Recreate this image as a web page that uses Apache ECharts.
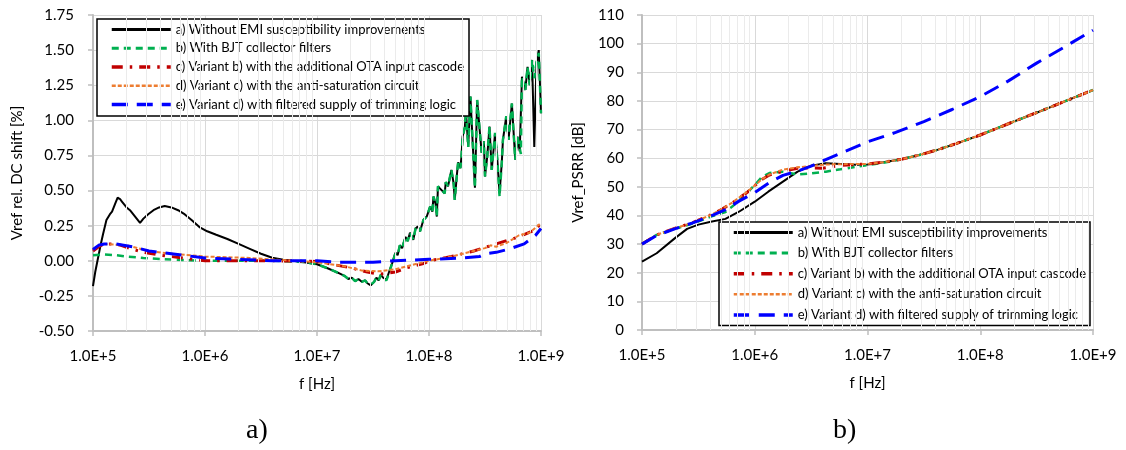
<!DOCTYPE html>
<html>
<head>
<meta charset="utf-8">
<script src="https://cdn.jsdelivr.net/npm/echarts@6/dist/echarts.min.js"></script>
<style>
  html, body { margin: 0; padding: 0; background: #fff; }
  #chart { width: 1126px; height: 450px; }
</style>
</head>
<body>
<div id="chart"></div>
<script>
// Frequencies are stored as decade exponents (f = 10^exp Hz).
const seriesNames = [
  'a) Without EMI susceptibility improvements',
  'b) With BJT collector filters',
  'c) Variant b) with the additional OTA input cascode',
  'd) Variant c) with the anti-saturation circuit',
  'e) Variant d) with filtered supply of trimming logic'
];

// ---- a) Vref relative DC shift [%] ----
const shiftA = [
  [5.00,-0.18],[5.02,-0.08],[5.04,0.00],[5.07,0.12],[5.09,0.19],[5.12,0.29],[5.15,0.33],[5.17,0.35],
  [5.20,0.41],[5.22,0.45],[5.24,0.44],[5.26,0.42],[5.30,0.38],[5.33,0.36],[5.36,0.33],[5.39,0.30],
  [5.42,0.27],[5.45,0.30],[5.49,0.33],[5.54,0.36],[5.59,0.38],[5.64,0.39],[5.70,0.38],[5.76,0.36],
  [5.82,0.33],[5.88,0.29],[5.95,0.24],[6.02,0.21],[6.10,0.185],[6.20,0.155],[6.30,0.12],[6.40,0.085],
  [6.50,0.05],[6.60,0.022],[6.70,0.008],[6.80,-0.002],[6.90,-0.012],[7.00,-0.025],[7.10,-0.055],
  [7.20,-0.09],[7.25,-0.11],[7.28,-0.13],[7.31,-0.12],[7.34,-0.145],[7.37,-0.13],[7.40,-0.15],
  [7.43,-0.14],[7.45,-0.16],[7.48,-0.175],[7.51,-0.15],[7.53,-0.12],[7.55,-0.14],[7.57,-0.10],
  [7.59,-0.12],[7.62,-0.135],[7.65,-0.064],[7.67,-0.02],[7.70,0.057],[7.72,0.04],[7.74,0.11],
  [7.76,0.09],[7.79,0.17],[7.81,0.14],[7.83,0.20],[7.86,0.15],[7.88,0.23],[7.90,0.244],[7.92,0.21],
  [7.95,0.29],[7.98,0.315],[8.01,0.386],[8.03,0.35],[8.04,0.457],[8.06,0.40],[8.07,0.315],[8.08,0.53],
  [8.11,0.505],[8.14,0.48],[8.15,0.56],[8.17,0.53],[8.20,0.647],[8.22,0.55],[8.23,0.434],[8.25,0.62],
  [8.26,0.70],[8.28,0.66],[8.29,0.742],[8.30,0.884],[8.32,0.95],[8.33,1.07],[8.35,0.81],[8.37,1.17],
  [8.39,0.84],[8.41,0.52],[8.43,1.145],[8.45,0.955],[8.47,0.77],[8.49,0.85],[8.50,0.60],[8.52,0.742],
  [8.54,0.955],[8.56,0.647],[8.59,0.91],[8.61,0.72],[8.63,0.48],[8.65,0.70],[8.66,0.86],[8.69,1.03],
  [8.71,0.86],[8.74,1.12],[8.77,0.72],[8.79,0.884],[8.81,0.78],[8.83,1.31],[8.86,1.216],[8.88,1.38],
  [8.90,1.25],[8.92,1.43],[8.94,0.81],[8.96,1.41],[8.98,1.50],[9.00,1.05]
];
const shiftB = [
  [5.00,0.04],[5.10,0.045],[5.20,0.04],[5.30,0.03],[5.45,0.02],[5.60,0.012],[5.80,0.006],[6.00,0.00],
  [6.30,0.00],[6.60,0.00],[6.90,-0.01],[7.00,-0.025],[7.10,-0.055],
  [7.20,-0.09],[7.25,-0.11],[7.28,-0.13],[7.31,-0.12],[7.34,-0.145],[7.37,-0.13],[7.40,-0.15],
  [7.43,-0.14],[7.45,-0.16],[7.48,-0.17],[7.51,-0.15],[7.53,-0.12],[7.55,-0.14],[7.57,-0.10],
  [7.59,-0.12],[7.62,-0.14],[7.65,-0.07],[7.67,-0.02],[7.70,0.05],[7.72,0.04],[7.74,0.11],
  [7.76,0.09],[7.79,0.17],[7.81,0.14],[7.83,0.20],[7.86,0.15],[7.88,0.23],[7.90,0.244],[7.92,0.21],
  [7.95,0.29],[7.98,0.315],[8.01,0.386],[8.03,0.35],[8.04,0.457],[8.06,0.40],[8.07,0.315],[8.08,0.53],
  [8.11,0.505],[8.14,0.48],[8.15,0.56],[8.17,0.53],[8.20,0.647],[8.22,0.55],[8.23,0.434],[8.25,0.62],
  [8.26,0.70],[8.28,0.66],[8.29,0.742],[8.30,0.884],[8.32,0.95],[8.33,1.07],[8.35,0.81],[8.37,1.17],
  [8.39,0.84],[8.41,0.52],[8.43,1.145],[8.45,0.955],[8.47,0.77],[8.49,0.85],[8.50,0.60],[8.52,0.742],
  [8.54,0.955],[8.56,0.647],[8.59,0.91],[8.61,0.72],[8.63,0.46],[8.65,0.70],[8.66,0.86],[8.69,1.03],
  [8.71,0.86],[8.74,1.12],[8.77,0.72],[8.79,0.884],[8.82,0.76],[8.83,1.31],[8.86,1.216],[8.88,1.38],
  [8.90,1.25],[8.92,1.43],[8.94,1.30],[8.96,1.41],[8.98,1.48],[9.00,1.05]
];
const shiftC = [
  [5.00,0.07],[5.05,0.10],[5.10,0.12],[5.18,0.12],[5.25,0.11],[5.35,0.083],[5.45,0.06],[5.60,0.04],
  [5.80,0.02],[6.00,0.00],[6.30,0.00],[6.60,0.00],[7.00,-0.005],[7.10,-0.02],[7.30,-0.05],
  [7.45,-0.08],[7.55,-0.095],[7.62,-0.09],[7.70,-0.08],[7.80,-0.05],[7.95,-0.02],[8.00,0.00],
  [8.20,0.03],[8.40,0.07],[8.60,0.12],[8.80,0.17],[8.95,0.22],[9.00,0.27]
];
const shiftD = [
  [5.00,0.08],[5.05,0.105],[5.10,0.12],[5.20,0.115],[5.30,0.11],[5.40,0.09],[5.50,0.07],[5.70,0.05],
  [6.00,0.03],[6.40,0.02],[6.80,0.00],[7.00,-0.01],[7.25,-0.04],[7.40,-0.07],[7.55,-0.075],
  [7.70,-0.06],[7.90,-0.02],[8.00,0.00],[8.20,0.03],[8.40,0.07],[8.50,0.09],[8.55,0.11],
  [8.60,0.10],[8.70,0.13],[8.80,0.18],[8.90,0.20],[9.00,0.27]
];
const shiftE = [
  [5.00,0.08],[5.05,0.11],[5.10,0.12],[5.20,0.12],[5.35,0.10],[5.50,0.07],[5.70,0.05],[6.00,0.02],
  [6.30,0.01],[6.60,0.00],[7.00,0.00],[7.20,-0.01],[7.50,-0.01],[7.70,0.00],[8.00,0.01],
  [8.30,0.02],[8.45,0.03],[8.50,0.05],[8.60,0.06],[8.70,0.08],[8.85,0.12],[8.95,0.18],[9.00,0.23]
];

// ---- b) Vref_PSRR [dB] ----
const psrrA = [
  [5.00,23.9],[5.13,26.8],[5.29,32.0],[5.40,35.3],[5.50,36.8],[5.61,37.8],[5.74,38.8],[5.86,41.3],
  [6.00,44.8],[6.12,48.3],[6.25,51.8],[6.38,55.3],[6.50,57.4],[6.63,58.2],[6.76,58.0],[6.90,57.7],
  [7.00,57.8],[7.14,58.6],[7.30,59.6],[7.46,61.1],[7.62,62.9],[7.78,65.0],[8.00,68.1],[8.26,72.2],
  [8.52,76.2],[8.74,79.7],[9.00,83.8]
];
const psrrB = [
  [5.00,30.0],[5.13,33.2],[5.29,35.3],[5.45,37.2],[5.61,39.6],[5.74,41.2],[5.80,43.1],[5.90,46.6],
  [6.00,50.6],[6.06,53.3],[6.13,54.8],[6.25,55.3],[6.38,54.3],[6.50,54.7],[6.63,55.3],[6.76,56.1],
  [6.90,57.0],[7.00,57.6],[7.14,58.4],[7.30,59.6],[7.46,61.1],[7.62,62.9],[7.78,65.0],[8.00,68.1],
  [8.26,72.2],[8.52,76.2],[8.74,79.7],[9.00,83.8]
];
const psrrC = [
  [5.00,30.0],[5.13,33.2],[5.29,35.5],[5.45,37.5],[5.60,40.0],[5.70,42.0],[5.80,44.3],[5.94,48.3],
  [6.06,52.5],[6.13,54.1],[6.25,55.5],[6.38,56.5],[6.50,56.6],[6.60,56.5],[6.76,57.5],[7.00,58.0],
  [7.14,58.6],[7.30,59.6],[7.46,61.1],[7.62,62.9],[7.78,65.0],[8.00,68.1],[8.26,72.2],[8.52,76.2],
  [8.74,79.7],[9.00,83.8]
];
const psrrD = [
  [5.00,30.0],[5.13,33.2],[5.29,35.5],[5.45,37.5],[5.60,40.0],[5.70,42.0],[5.80,44.5],[5.94,48.5],
  [6.06,52.5],[6.13,54.3],[6.25,56.0],[6.38,56.8],[6.50,57.3],[6.63,57.8],[6.76,57.9],[7.00,58.0],
  [7.14,58.6],[7.30,59.6],[7.46,61.1],[7.62,62.9],[7.78,65.0],[8.00,68.1],[8.26,72.2],[8.52,76.2],
  [8.74,79.7],[9.00,83.8]
];
const psrrE = [
  [5.00,30.0],[5.13,33.0],[5.29,35.3],[5.45,37.4],[5.61,39.8],[5.74,42.0],[5.86,45.0],[6.00,48.0],
  [6.13,51.5],[6.25,54.0],[6.38,55.5],[6.50,57.2],[6.63,59.5],[6.76,61.7],[7.00,65.7],[7.25,69.0],
  [7.50,72.8],[7.75,77.0],[8.00,81.5],[8.25,87.0],[8.50,93.2],[8.75,98.9],[9.00,104.7]
];

// Axis ranges
const shiftTicks = { min: -0.5, max: 1.75, step: 0.25 };
const psrrTicks = { min: 0, max: 110, step: 10 };

// Excel-style log minor grid: 2..9 x 10^n
const minorGrid = [];
for (let d = 5; d < 9; d++) {
  for (let k = 2; k <= 9; k++) minorGrid.push(k * Math.pow(10, d));
}

const toHz = arr => arr.map(p => [Math.pow(10, p[0]), p[1]]);

const styles = [
  { color: '#000000', width: 2, type: 'solid' },
  { color: '#00b050', width: 2.5, type: [7, 5] },
  { color: '#c00000', width: 3, type: [11, 7, 2.5, 7] },
  { color: '#ed7d31', width: 2, type: [4, 2] },
  { color: '#0000ff', width: 3, type: [16, 9] }
];
// Heavier strokes for the legend samples
const legendWidths = [3, 3, 3.5, 2.5, 3.5];

const tickFont = { fontFamily: 'Lato', fontSize: 15, color: '#000' };

function xAxisDef(gridIndex) {
  return {
    type: 'log', logBase: 10, gridIndex, min: 1e5, max: 1e9,
    name: 'f [Hz]', nameLocation: 'middle', nameGap: 46,
    nameTextStyle: { fontFamily: 'Lato', fontSize: 15, color: '#000' },
    axisLine: { onZero: false, lineStyle: { color: '#bfbfbf', width: 2 } },
    axisTick: { show: true, length: 5, lineStyle: { color: '#bfbfbf', width: 1.5 } },
    axisLabel: Object.assign({ margin: 18, formatter: v => '1.0E+' + Math.round(Math.log10(v)) }, tickFont),
    splitLine: { show: true, lineStyle: { color: '#d9d9d9', width: 1 } },
    minorTick: { show: false }, minorSplitLine: { show: false }
  };
}

function yAxisDef(gridIndex, t, name, gap, digits, margin) {
  return {
    type: 'value', gridIndex, min: t.min, max: t.max, interval: t.step,
    name, nameLocation: 'middle', nameGap: gap, nameRotate: 90,
    nameTextStyle: { fontFamily: 'Lato', fontSize: 15, color: '#000' },
    axisLine: { show: true, onZero: false, lineStyle: { color: '#bfbfbf', width: 2 } },
    axisTick: { show: true, length: 5, lineStyle: { color: '#bfbfbf', width: 1.5 } },
    axisLabel: Object.assign({ margin, formatter: v => v.toFixed(digits) }, tickFont),
    splitLine: { show: true, lineStyle: { color: '#d9d9d9', width: 1 } }
  };
}

function gridSeries(idx) {
  return {
    type: 'line', xAxisIndex: idx, yAxisIndex: idx, data: [], z: 1, silent: true,
    markLine: {
      silent: true, symbol: 'none', label: { show: false }, animation: false,
      lineStyle: { color: '#ebebeb', width: 1, type: 'solid' },
      data: minorGrid.map(v => ({ xAxis: v }))
    }
  };
}

function curveSeries(idx, i, arr) {
  return {
    name: seriesNames[i], type: 'line', xAxisIndex: idx, yAxisIndex: idx,
    data: toHz(arr), showSymbol: false, symbol: 'none', smooth: false,
    lineStyle: { color: styles[i].color, width: styles[i].width, type: styles[i].type },
    itemStyle: { color: styles[i].color },
    z: 2 + i, animation: false
  };
}

function legendDef(left, top, gap, pad) {
  return {
    orient: 'vertical', left, top,
    data: seriesNames.map((name, i) => ({
      name,
      itemStyle: { opacity: 0 },
      lineStyle: { color: styles[i].color, width: legendWidths[i], type: styles[i].type }
    })),
    itemWidth: 59, itemHeight: 13, itemGap: gap,
    padding: pad,
    itemStyle: { opacity: 0 },
    borderColor: '#000', borderWidth: 1.5, backgroundColor: '#fff',
    textStyle: { fontFamily: 'Lato', fontSize: 13, color: '#000' },
    selectedMode: false
  };
}

const chart = echarts.init(document.getElementById('chart'), null, { renderer: 'canvas' });
chart.setOption({
  animation: false,
  grid: [
    { left: 93, top: 15, width: 448, height: 316 },
    { left: 642, top: 15, width: 451, height: 315 }
  ],
  xAxis: [xAxisDef(0), xAxisDef(1)],
  yAxis: [
    yAxisDef(0, shiftTicks, 'Vref rel. DC shift [%]', 68, 2, 19),
    yAxisDef(1, psrrTicks, 'Vref_PSRR [dB]', 56, 0, 18)
  ],
  legend: [
    legendDef(97, 19, 5.75, [4, 5, 5, 13]),
    legendDef(719, 222, 7.6, [4, 4, 4, 13])
  ],
  series: [
    gridSeries(0), gridSeries(1),
    curveSeries(0, 0, shiftA), curveSeries(0, 1, shiftB), curveSeries(0, 2, shiftC),
    curveSeries(0, 3, shiftD), curveSeries(0, 4, shiftE),
    curveSeries(1, 0, psrrA), curveSeries(1, 1, psrrB), curveSeries(1, 2, psrrC),
    curveSeries(1, 3, psrrD), curveSeries(1, 4, psrrE)
  ],
  graphic: [
    { type: 'text', left: 246, top: 417, style: { text: 'a)', font: '28px "Liberation Serif"', fill: '#000' } },
    { type: 'text', left: 833, top: 417, style: { text: 'b)', font: '28px "Liberation Serif"', fill: '#000' } }
  ]
});
</script>
</body>
</html>
